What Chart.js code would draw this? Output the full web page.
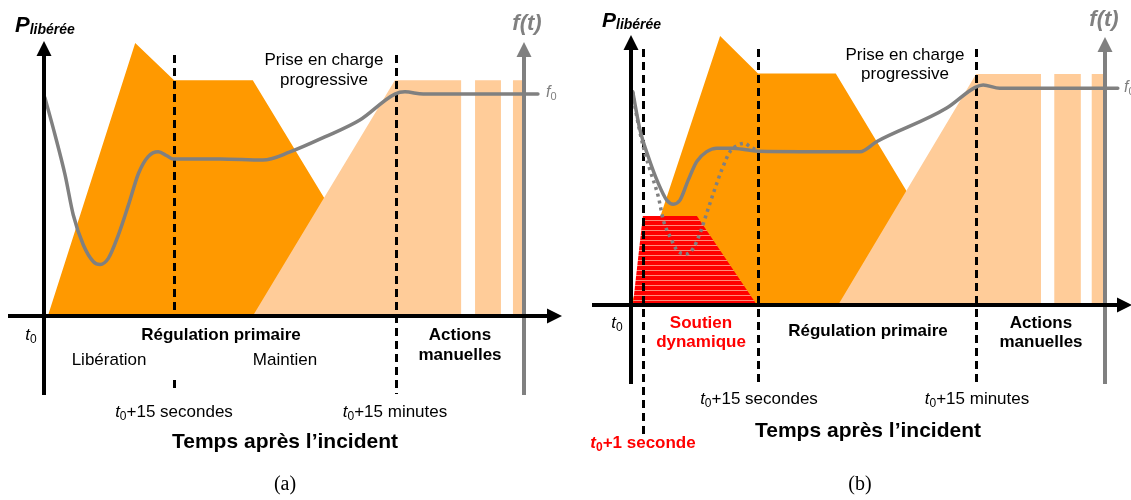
<!DOCTYPE html>
<html>
<head>
<meta charset="utf-8">
<script src="https://cdn.jsdelivr.net/npm/chart.js@4.4.0/dist/chart.umd.min.js"></script>
<style>
  body { margin: 0; background: #fff; }
  #wrap { position: relative; width: 1131px; height: 500px; overflow: hidden; }
  canvas { position: absolute; top: 0; }
  #chartA { left: 0; }
  #chartB { left: 575px; }
</style>
</head>
<body>
<div id="wrap">
  <canvas id="chartA" width="575" height="500"></canvas>
  <canvas id="chartB" width="556" height="500"></canvas>
</div>
<script>
// ---- (a) : temps (0 = t0, 100 = axe f(t)), puissance libérée (0..100) ----
const tOrangeA = [0.8, 19, 27.1, 43.5, 73.3];
const pOrangeA = [0, 100, 86.4, 86.4, 0];
const tLightA = [43.5, 73.1, 86.9, 86.9, 89.8, 89.8, 95.2, 95.2, 97.7, 97.7, 100, 100];
const pLightA = [0, 86.4, 86.4, 0, 0, 86.4, 86.4, 0, 0, 86.4, 86.4, 0];
const tFreqA = [0.2, 2.3, 4.4, 6.1, 8.2, 10.3, 11.7, 13.4, 15.5, 17.6, 19.7, 21.7, 23.8, 25.6, 26.9, 30.4, 36.7, 45.6, 51.25, 58.5, 65.8, 73.1, 75.2, 79.0, 102.9];
const fFreqA = [79.9, 66.3, 51.6, 37.0, 26.0, 19.9, 18.9, 21.1, 29.7, 40.7, 52.3, 58.4, 60.2, 58.7, 57.5, 57.5, 57.5, 57.1, 60.1, 65.6, 71.8, 81.3, 82.1, 81.3, 81.3];
const guidesA = [27.1, 73.3];

// ---- (b) ----
const tOrangeB = [0, 18.8, 26.8, 43.2, 72.6];
const pOrangeB = [0, 100, 86.1, 86.1, 0];
const tLightB = [43.7, 72.8, 86.5, 86.5, 89.3, 89.3, 94.9, 94.9, 97.2, 97.2, 100, 100];
const pLightB = [0, 85.9, 85.9, 0, 0, 85.9, 85.9, 0, 0, 85.9, 85.9, 0];
const tRedB = [0.4, 2.5, 13.9, 26.6];
const pRedB = [0, 33.1, 33.1, 0];
const tFreqB = [0.36, 1.9, 3.65, 5.76, 7.53, 8.92, 10.34, 12.09, 13.86, 15.97, 18.08, 21.24, 24.75, 26.86, 48.3, 51.8, 66.6, 72.6, 74.3, 77.8, 102.7];
const fFreqB = [79.3, 65.1, 55.1, 45.2, 39.0, 37.5, 39.0, 46.5, 53.3, 57.0, 58.3, 58.3, 57.6, 57.2, 57.0, 60.7, 73.2, 80.9, 81.8, 80.6, 80.6];
const tDotB = [0.36, 0.84, 2.59, 4.0, 5.76, 6.81, 8.23, 9.98, 11.75, 13.14, 14.56, 15.97, 17.36, 19.14, 20.89, 22.64, 24.05, 25.1, 26.86];
const fDotB = [79.2, 73.7, 58.8, 50.2, 40.3, 31.6, 25.4, 19.8, 19.0, 21.1, 26.7, 34.1, 41.5, 50.2, 57.0, 59.5, 60.1, 58.8, 57.4];
const guidesB = [2.5, 26.8, 72.8];

const ORANGE = '#ff9900';
const LIGHT = '#ffcc99';
const RED = '#ff0000';
const GREY = '#808080';
const SANS = '"Liberation Sans", Arial, Helvetica, sans-serif';
const SERIF = '"Liberation Serif", "DejaVu Serif", serif';

function pts(xs, ys) {
  return xs.map((x, i) => ({ x: x, y: ys[i] }));
}
function fnt(style, size) {
  return style + ' ' + size + 'px ' + SANS;
}
function t0(style, size, rest) {
  return [['t', fnt('italic ' + style, size)], ['0', fnt(style, Math.round(size * 0.7)), 5], [rest, fnt(style, size)]];
}

function drawRuns(ctx, x, y, runs, color, align) {
  ctx.save();
  ctx.fillStyle = color || '#000';
  ctx.textBaseline = 'middle';
  ctx.textAlign = 'left';
  let total = 0;
  runs.forEach(r => { ctx.font = r[1]; total += ctx.measureText(r[0]).width; });
  let cx = align === 'left' ? x : x - total / 2;
  runs.forEach(r => {
    ctx.font = r[1];
    ctx.fillText(r[0], cx, y + (r[2] || 0));
    cx += ctx.measureText(r[0]).width;
  });
  ctx.restore();
}

function arrowUp(ctx, x, tip, bottom, color) {
  ctx.save();
  ctx.strokeStyle = color; ctx.fillStyle = color; ctx.lineWidth = 4;
  ctx.beginPath(); ctx.moveTo(x, bottom); ctx.lineTo(x, tip + 10); ctx.stroke();
  ctx.beginPath(); ctx.moveTo(x, tip); ctx.lineTo(x - 7.5, tip + 15); ctx.lineTo(x + 7.5, tip + 15); ctx.closePath(); ctx.fill();
  ctx.restore();
}
function arrowRight(ctx, y, left, tip) {
  ctx.save();
  ctx.strokeStyle = '#000'; ctx.fillStyle = '#000'; ctx.lineWidth = 4;
  ctx.beginPath(); ctx.moveTo(left, y); ctx.lineTo(tip - 10, y); ctx.stroke();
  ctx.beginPath(); ctx.moveTo(tip, y); ctx.lineTo(tip - 15, y - 7.5); ctx.lineTo(tip - 15, y + 7.5); ctx.closePath(); ctx.fill();
  ctx.restore();
}

function schema(spec) {
  let guidesDone = false;
  return {
    id: 'schema',
    beforeDatasetsDraw() { guidesDone = false; },
    beforeDatasetDraw(chart, args) {
      if (guidesDone || !chart.data.datasets[args.index].isCurve) return;
      guidesDone = true;
      const ctx = chart.ctx, xs = chart.scales.x;
      ctx.save();
      ctx.strokeStyle = '#000'; ctx.lineWidth = 3; ctx.setLineDash([8, 5]);
      spec.guides.forEach((g, i) => {
        const px = Math.round(xs.getPixelForValue(g)) + 0.5;
        spec.guideSpans[i].forEach(s => {
          ctx.beginPath(); ctx.moveTo(px, s[0]); ctx.lineTo(px, s[1]); ctx.stroke();
        });
      });
      ctx.restore();
    },
    afterDraw(chart) {
      const ctx = chart.ctx, xs = chart.scales.x, ys = chart.scales.y;
      const x0 = xs.getPixelForValue(0), x1 = xs.getPixelForValue(100), y0 = ys.getPixelForValue(0);
      arrowUp(ctx, x1, spec.greyTip, spec.axisBottom, GREY);
      arrowRight(ctx, y0, spec.xAxisLeft, spec.xAxisTip);
      arrowUp(ctx, x0, spec.yTip, spec.axisBottom, '#000');
      spec.texts.forEach(t => drawRuns(ctx, t.x, t.y, t.runs, t.color, t.align));
    }
  };
}

function stripes() {
  const c = document.createElement('canvas');
  c.width = 4; c.height = 5;
  const g = c.getContext('2d');
  g.fillStyle = RED; g.fillRect(0, 0, 4, 5);
  g.fillStyle = '#ff8a7a'; g.fillRect(0, 0, 4, 1);
  return g.createPattern(c, 'repeat');
}

function areaSet(data, color, order) {
  return { data: data, backgroundColor: color, borderColor: 'rgba(0,0,0,0)', borderWidth: 0, fill: 'origin', pointRadius: 0, order: order, clip: false };
}
function curveSet(data, dash, order) {
  return { data: data, borderColor: GREY, borderWidth: 3.5, borderDash: dash, fill: false, pointRadius: 0,
    cubicInterpolationMode: 'monotone', order: order, clip: false, isCurve: true, borderCapStyle: dash.length ? 'butt' : 'round' };
}

function makeChart(id, datasets, padding, spec) {
  return new Chart(document.getElementById(id), {
    type: 'line',
    data: { datasets: datasets },
    options: {
      responsive: false,
      animation: false,
      events: [],
      layout: { padding: padding, autoPadding: false },
      scales: {
        x: { type: 'linear', min: 0, max: 100, display: false },
        y: { type: 'linear', min: 0, max: 100, display: false }
      },
      plugins: { legend: { display: false }, tooltip: { enabled: false } }
    },
    plugins: [schema(spec)]
  });
}

const REG = fnt('', 17), BOLD = fnt('bold', 17);

makeChart('chartA', [
  areaSet(pts(tOrangeA, pOrangeA), ORANGE, 5),
  areaSet(pts(tLightA, pLightA), LIGHT, 4),
  curveSet(pts(tFreqA, fFreqA), [], 1)
], { left: 44, right: 51, top: 43, bottom: 184 }, {
  guides: guidesA,
  guideSpans: [[[55, 318], [380, 392]], [[55, 394]]],
  yTip: 41, greyTip: 42, axisBottom: 395, xAxisLeft: 8, xAxisTip: 562,
  texts: [
    { x: 15, y: 26, align: 'left', runs: [['P', fnt('italic bold', 22)], ['libérée', fnt('italic bold', 14), 4]] },
    { x: 527, y: 24, runs: [['f(t)', fnt('italic bold', 22)]], color: GREY },
    { x: 546, y: 93, align: 'left', runs: [['f', fnt('italic', 16)], ['0', fnt('', 11), 4]], color: GREY },
    { x: 324, y: 60, runs: [['Prise en charge', REG]] },
    { x: 324, y: 80, runs: [['progressive', REG]] },
    { x: 31, y: 335, runs: t0('', 17, '') },
    { x: 221, y: 335, runs: [['Régulation primaire', BOLD]] },
    { x: 109, y: 360, runs: [['Libération', REG]] },
    { x: 285, y: 360, runs: [['Maintien', REG]] },
    { x: 460, y: 335, runs: [['Actions', BOLD]] },
    { x: 460, y: 355, runs: [['manuelles', BOLD]] },
    { x: 174, y: 412, runs: t0('', 17, '+15 secondes') },
    { x: 395, y: 412, runs: t0('', 17, '+15 minutes') },
    { x: 285, y: 442, runs: [['Temps après l’incident', fnt('bold', 21)]] },
    { x: 285, y: 485, runs: [['(a)', '20px ' + SERIF]] }
  ]
});

makeChart('chartB', [
  areaSet(pts(tOrangeB, pOrangeB), ORANGE, 6),
  areaSet(pts(tLightB, pLightB), LIGHT, 5),
  areaSet(pts(tRedB, pRedB), stripes(), 4),
  curveSet(pts(tDotB, fDotB), [3, 4], 2),
  curveSet(pts(tFreqB, fFreqB), [], 1)
], { left: 56, right: 26, top: 36, bottom: 195 }, {
  guides: guidesB,
  guideSpans: [[[49, 436]], [[49, 385]], [[49, 385]]],
  yTip: 35, greyTip: 37, axisBottom: 384, xAxisLeft: 17, xAxisTip: 557,
  texts: [
    { x: 27, y: 21, align: 'left', runs: [['P', fnt('italic bold', 21)], ['libérée', fnt('italic bold', 14), 4]] },
    { x: 529, y: 20, runs: [['f(t)', fnt('italic bold', 22)]], color: GREY },
    { x: 549, y: 88, align: 'left', runs: [['f', fnt('italic', 16)], ['0', fnt('', 11), 4]], color: GREY },
    { x: 330, y: 55, runs: [['Prise en charge', REG]] },
    { x: 330, y: 74, runs: [['progressive', REG]] },
    { x: 42, y: 323, runs: t0('', 17, '') },
    { x: 126, y: 323, runs: [['Soutien', BOLD]], color: RED },
    { x: 126, y: 342, runs: [['dynamique', BOLD]], color: RED },
    { x: 293, y: 331, runs: [['Régulation primaire', BOLD]] },
    { x: 466, y: 323, runs: [['Actions', BOLD]] },
    { x: 466, y: 342, runs: [['manuelles', BOLD]] },
    { x: 184, y: 399, runs: t0('', 17, '+15 secondes') },
    { x: 402, y: 399, runs: t0('', 17, '+15 minutes') },
    { x: 293, y: 431, runs: [['Temps après l’incident', fnt('bold', 21)]] },
    { x: 68, y: 443, runs: t0('bold', 17, '+1 seconde'), color: RED },
    { x: 285, y: 485, runs: [['(b)', '20px ' + SERIF]] }
  ]
});
</script>
</body>
</html>
